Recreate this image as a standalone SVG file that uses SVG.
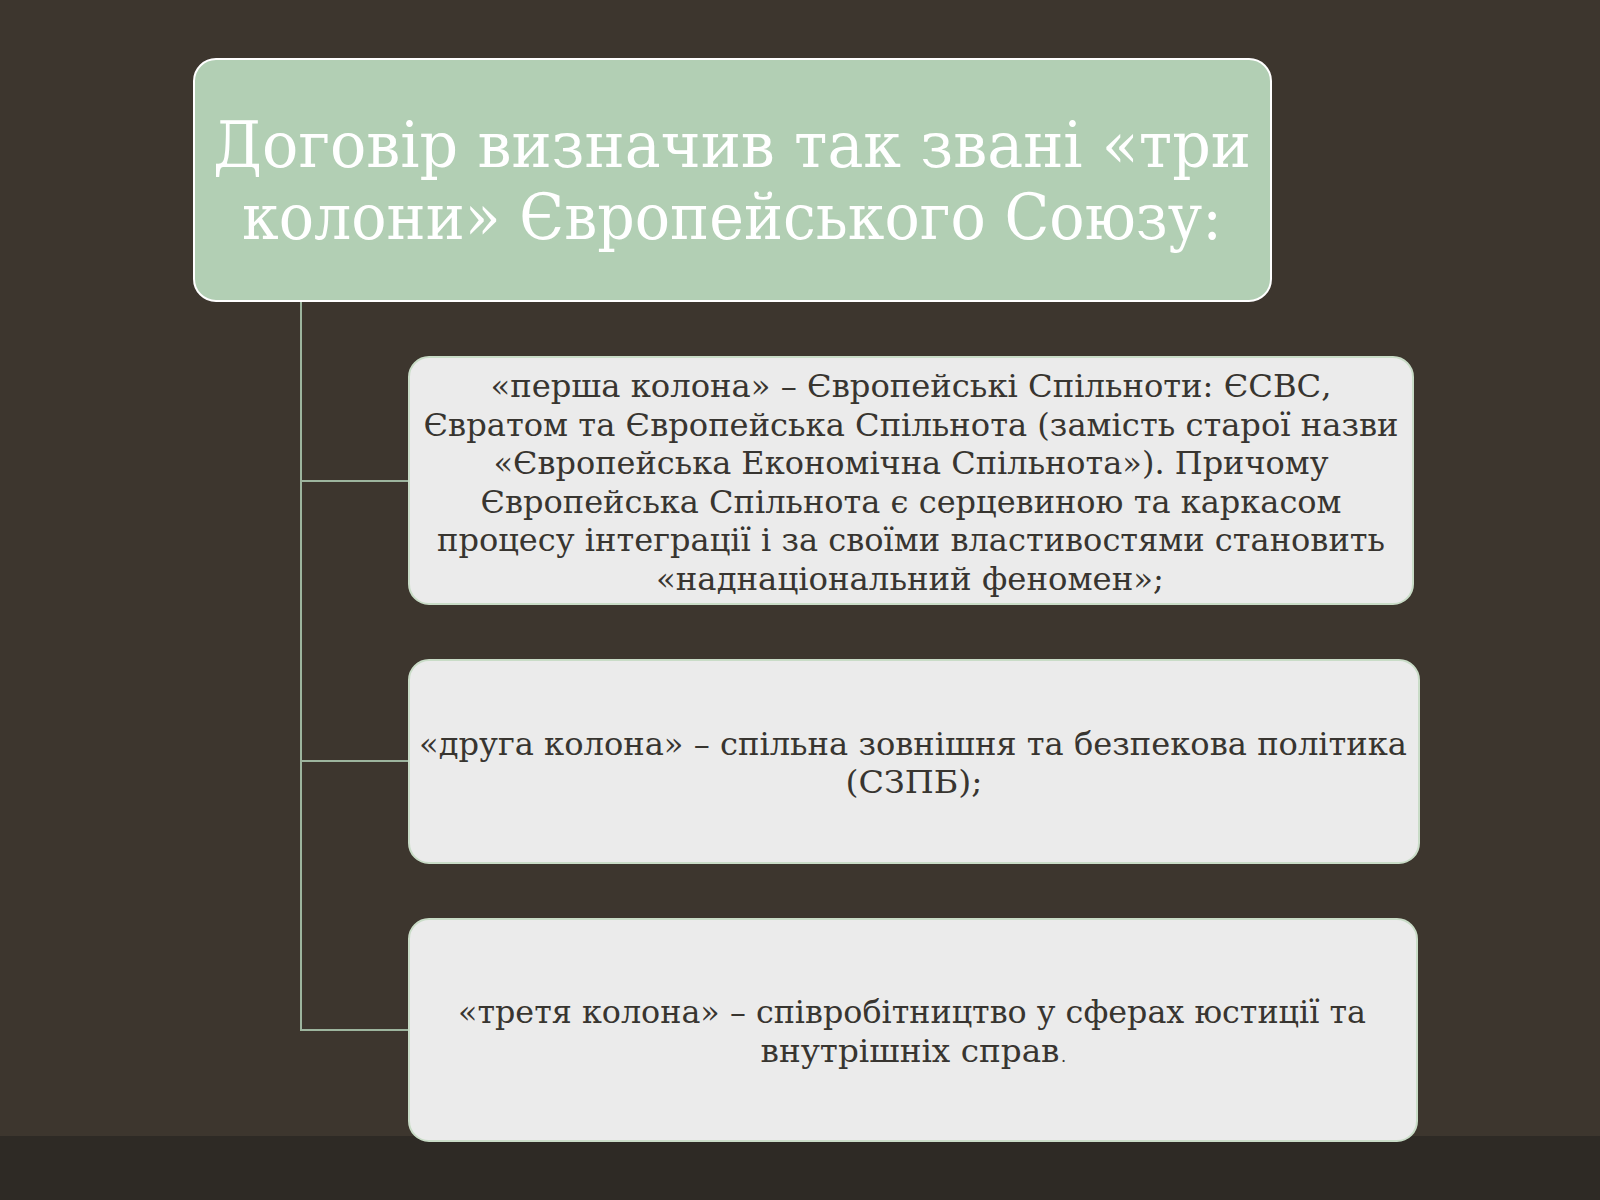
<svg xmlns="http://www.w3.org/2000/svg" width="1600" height="1200" viewBox="0 0 1600 1200">
<style>
.title{font-family:"DejaVu Serif","Liberation Serif",serif;font-size:63px;fill:#ffffff;text-anchor:middle}
.body{font-family:"DejaVu Serif","Liberation Serif",serif;font-size:32px;fill:#383530;text-anchor:middle}
.box{fill:#ebebeb;stroke:#c9dcc7;stroke-width:2}
.conn{stroke:#9db59e;stroke-width:2;fill:none}
</style>
<rect x="0" y="0" width="1600" height="1200" fill="#3d362e"/>
<rect x="0" y="1136" width="1600" height="64" fill="#2e2a25"/>
<g id="connectors">
<path class="conn" d="M301,301 V1030 H409 M301,481 H409 M301,761 H409"/>
</g>
<g id="title">
<rect x="194" y="59" width="1077" height="242" rx="22" fill="#b2cfb4" stroke="#ffffff" stroke-width="2"/>
<text class="title" x="732" y="167" textLength="1038" lengthAdjust="spacingAndGlyphs">Договір визначив так звані «три</text>
<text class="title" x="732" y="239" textLength="980" lengthAdjust="spacingAndGlyphs">колони» Європейського Союзу:</text>
</g>
<g id="col1">
<rect class="box" x="409" y="357" width="1004" height="247" rx="20"/>
<text class="body" x="911" y="397" textLength="841" lengthAdjust="spacingAndGlyphs">«перша колона» – Європейські Спільноти: ЄСВС,</text>
<text class="body" x="911" y="435.6" textLength="975" lengthAdjust="spacingAndGlyphs">Євратом та Європейська Спільнота (замість старої назви</text>
<text class="body" x="911" y="474.2" textLength="835" lengthAdjust="spacingAndGlyphs">«Європейська Економічна Спільнота»). Причому</text>
<text class="body" x="911" y="512.8" textLength="861" lengthAdjust="spacingAndGlyphs">Європейська Спільнота є серцевиною та каркасом</text>
<text class="body" x="911" y="551.4" textLength="948" lengthAdjust="spacingAndGlyphs">процесу інтеграції і за своїми властивостями становить</text>
<text class="body" x="910" y="590" textLength="508" lengthAdjust="spacingAndGlyphs">«наднаціональний феномен»;</text>
</g>
<g id="col2">
<rect class="box" x="409" y="660" width="1010" height="203" rx="20"/>
<text class="body" x="913" y="755" textLength="988" lengthAdjust="spacingAndGlyphs">«друга колона» – спільна зовнішня та безпекова політика</text>
<text class="body" x="914" y="793" textLength="137" lengthAdjust="spacingAndGlyphs">(СЗПБ);</text>
</g>
<g id="col3">
<rect class="box" x="409" y="919" width="1008" height="222" rx="20"/>
<text class="body" x="912" y="1023" textLength="908" lengthAdjust="spacingAndGlyphs">«третя колона» – співробітництво у сферах юстиції та</text>
<text class="body" x="910" y="1062" textLength="299" lengthAdjust="spacingAndGlyphs">внутрішніх справ</text>
<text class="body" x="1061" y="1062" style="font-size:16px;text-anchor:start">.</text>
</g>
</svg>
